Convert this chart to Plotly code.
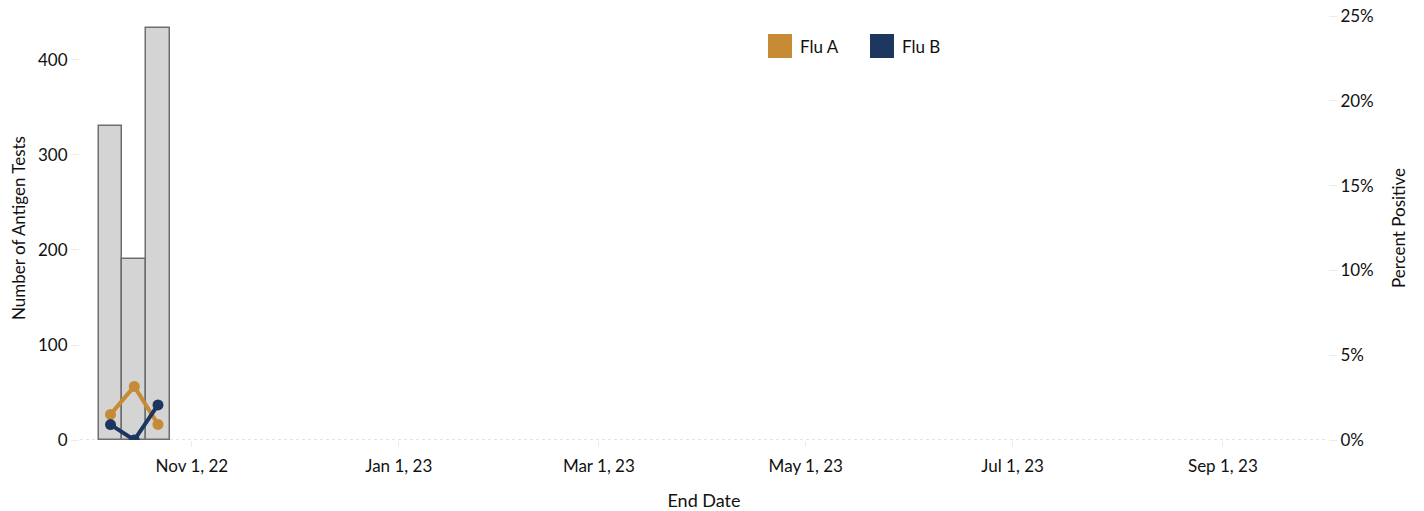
import plotly.graph_objects as go

# Data
end_dates = ["2022-10-08", "2022-10-15", "2022-10-22"]
antigen_tests = [331, 190, 434]
flu_a_pct = [1.51, 3.16, 0.92]
flu_b_pct = [0.91, 0.0, 2.07]

x_tick_vals = ["2022-11-01", "2023-01-01", "2023-03-01", "2023-05-01", "2023-07-01", "2023-09-01"]
x_tick_text = ["Nov 1, 22", "Jan 1, 23", "Mar 1, 23", "May 1, 23", "Jul 1, 23", "Sep 1, 23"]
left_ticks = [0, 100, 200, 300, 400]
right_ticks = [0, 5, 10, 15, 20, 25]
right_tick_text = ["0%", "5%", "10%", "15%", "20%", "25%"]

FLU_A = "#c68b34"
FLU_B = "#1c3660"
FONT = "Lato, 'Open Sans', sans-serif"

W, H = 1424, 511
ML, MR, MT, MB = 80, 96, 16, 71

fig = go.Figure()

fig.add_trace(go.Bar(
    x=end_dates, y=antigen_tests,
    width=7 * 86400000,
    marker=dict(color="#d4d4d4", line=dict(color="#6e6e6e", width=1.5)),
    showlegend=False, hoverinfo="x+y",
))

fig.add_trace(go.Scatter(
    x=end_dates, y=flu_a_pct, yaxis="y2", mode="lines+markers",
    line=dict(color=FLU_A, width=4), marker=dict(color=FLU_A, size=11),
    showlegend=False, name="Flu A",
))
fig.add_trace(go.Scatter(
    x=end_dates, y=flu_b_pct, yaxis="y2", mode="lines+markers",
    line=dict(color=FLU_B, width=4), marker=dict(color=FLU_B, size=11),
    showlegend=False, name="Flu B",
))

# Manual legend (square swatches) in pixel-based paper coordinates
pw, ph = W - ML - MR, H - MT - MB
def px(x):
    return (x - ML) / pw
def py(y):
    return 1 - (y - MT) / ph

shapes = [dict(
    type="line", xref="paper", yref="y", x0=0, x1=1, y0=0, y1=0,
    line=dict(color="#c8c8c8", width=1, dash="dot"), layer="below",
)]
annotations = []
for (name, col, x0) in [("Flu A", FLU_A, 768), ("Flu B", FLU_B, 870)]:
    shapes.append(dict(type="rect", xref="paper", yref="paper",
                       x0=px(x0), x1=px(x0 + 24), y0=py(58), y1=py(34),
                       fillcolor=col, line=dict(width=0)))
    annotations.append(dict(text=name, xref="paper", yref="paper",
                            x=px(x0 + 30), y=py(46), xanchor="left", yanchor="middle",
                            showarrow=False, font=dict(size=17, color="#111111")))

axis_common = dict(showgrid=False, zeroline=False, showline=False, automargin=False)

fig.update_layout(
    width=W, height=H,
    margin=dict(l=ML, r=MR, t=MT, b=MB, autoexpand=False),
    plot_bgcolor="white", paper_bgcolor="white",
    font=dict(family=FONT, size=17, color="#111111"),
    bargap=0,
    showlegend=False,
    xaxis=dict(
        type="date",
        range=["2022-09-29", "2023-10-02"],
        tickvals=x_tick_vals, ticktext=x_tick_text,
        ticks="outside", ticklen=6, tickcolor="#ececec",
        ticklabelstandoff=5,
        tickfont=dict(size=17),
        title=dict(text="End Date", standoff=20, font=dict(size=18)),
        **axis_common,
    ),
    yaxis=dict(
        range=[0, 446.3],
        tickvals=left_ticks,
        ticks="outside", ticklen=8, tickcolor="#ececec",
        tickfont=dict(size=17),
        title=dict(text="Number of Antigen Tests", standoff=8, font=dict(size=17)),
        **axis_common,
    ),
    yaxis2=dict(
        overlaying="y", side="right",
        range=[0, 25],
        tickvals=right_ticks, ticktext=right_tick_text,
        ticks="outside", ticklen=8, tickcolor="#ececec",
        tickfont=dict(size=17),
        title=dict(text="Percent Positive", standoff=20, font=dict(size=17)),
        **axis_common,
    ),
    shapes=shapes,
    annotations=annotations,
)

fig.write_html("out.html", config={"displayModeBar": False},
               post_script="document.body.style.margin='0';")
